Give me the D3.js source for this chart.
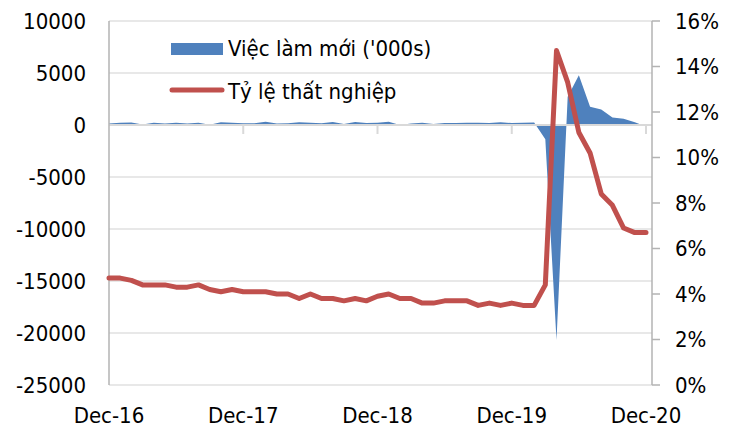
<!DOCTYPE html>
<html>
<head>
<meta charset="utf-8">
<script src="https://cdn.jsdelivr.net/npm/d3@7"></script>
<style>
  body { margin: 0; background: #fff; }
  text { font-family: "DejaVu Sans Condensed", "DejaVu Sans", sans-serif; fill: #000; }
</style>
</head>
<body>
<svg id="chart" width="743" height="431"></svg>
<script>
// monthly, Dec-16 .. Dec-20
const months = d3.range(49);
const yearTicks = [0, 12, 24, 36, 48];
const yearLabels = ["Dec-16", "Dec-17", "Dec-18", "Dec-19", "Dec-20"];

// job gains, thousands
const jobs = [
  155,
  216, 232, 50, 207, 145, 210, 138, 208, 18, 271, 216, 175,
  176, 324, 155, 175, 268, 208, 178, 282, 108, 277, 196, 227,
  312, 1, 147, 210, 85, 182, 194, 207, 208, 185, 261, 184,
  214, 251, -1373, -20679, 2725, 4781, 1761, 1493, 711, 610, 264, -140
];

// unemployment rate, %
const unemp = [
  4.7,
  4.7, 4.6, 4.4, 4.4, 4.4, 4.3, 4.3, 4.4, 4.2, 4.1, 4.2, 4.1,
  4.1, 4.1, 4.0, 4.0, 3.8, 4.0, 3.8, 3.8, 3.7, 3.8, 3.7, 3.9,
  4.0, 3.8, 3.8, 3.6, 3.6, 3.7, 3.7, 3.7, 3.5, 3.6, 3.5, 3.6,
  3.5, 3.5, 4.4, 14.7, 13.3, 11.1, 10.2, 8.4, 7.9, 6.9, 6.7, 6.7
];

const leftTicks = [10000, 5000, 0, -5000, -10000, -15000, -20000, -25000];
const rightTicks = [0, 2, 4, 6, 8, 10, 12, 14, 16];

const svg = d3.select("#chart");
const pl = 109, pr = 652, pt = 21, pb = 385;

const x = d3.scaleLinear().domain([0, 48]).range([pl, 646]);
const y = d3.scaleLinear().domain([-25000, 10000]).range([pb, pt]);
const y2 = d3.scaleLinear().domain([0, 16]).range([pb, pt]);

// gridlines
svg.append("g").selectAll("line")
  .data(leftTicks.filter(d => d !== 0))
  .join("line")
  .attr("x1", pl).attr("x2", pr)
  .attr("y1", d => y(d)).attr("y2", d => y(d))
  .attr("stroke", "#e0e0e0").attr("stroke-width", 1.5);

// area
svg.append("path")
  .datum(months)
  .attr("fill", "#4f81bd")
  .attr("d", d3.area()
    .x(i => x(i))
    .y0(y(0))
    .y1(i => y(jobs[i])));

// category axis at zero
svg.append("line")
  .attr("x1", pl).attr("x2", pr)
  .attr("y1", y(0)).attr("y2", y(0))
  .attr("stroke", "#d9d9d9").attr("stroke-width", 2);
svg.append("g").selectAll("line")
  .data(yearTicks.slice(1))
  .join("line")
  .attr("x1", d => x(d)).attr("x2", d => x(d))
  .attr("y1", y(0)).attr("y2", y(0) + 9)
  .attr("stroke", "#d9d9d9").attr("stroke-width", 2);

// left axis
svg.append("line")
  .attr("x1", pl).attr("x2", pl)
  .attr("y1", pt).attr("y2", pb)
  .attr("stroke", "#b3b3b3").attr("stroke-width", 1.5);
svg.append("g").selectAll("text")
  .data(leftTicks)
  .join("text")
  .attr("x", 86).attr("y", d => y(d)).attr("dy", "0.36em")
  .attr("text-anchor", "end").attr("font-size", 22)
  .text(d => d);

// right axis
svg.append("line")
  .attr("x1", pr).attr("x2", pr)
  .attr("y1", pt).attr("y2", pb)
  .attr("stroke", "#b3b3b3").attr("stroke-width", 1.5);
svg.append("g").selectAll("line")
  .data(rightTicks)
  .join("line")
  .attr("x1", pr).attr("x2", pr + 8)
  .attr("y1", d => y2(d)).attr("y2", d => y2(d))
  .attr("stroke", "#b3b3b3").attr("stroke-width", 1.5);
svg.append("g").selectAll("text")
  .data(rightTicks)
  .join("text")
  .attr("x", 675).attr("y", d => y2(d)).attr("dy", "0.36em")
  .attr("font-size", 22)
  .text(d => d + "%");

// x labels
svg.append("g").selectAll("text")
  .data(yearTicks)
  .join("text")
  .attr("x", d => x(d)).attr("y", 423)
  .attr("text-anchor", "middle").attr("font-size", 22)
  .text((d, i) => yearLabels[i]);

// unemployment line
svg.append("path")
  .datum(months)
  .attr("fill", "none")
  .attr("stroke", "#c0504d").attr("stroke-width", 5)
  .attr("stroke-linejoin", "round").attr("stroke-linecap", "round")
  .attr("d", d3.line().x(i => x(i)).y(i => y2(unemp[i])));

// legend
const lg = svg.append("g");
lg.append("rect").attr("x", 171).attr("y", 43).attr("width", 52).attr("height", 12).attr("fill", "#4f81bd");
lg.append("text").attr("x", 228).attr("y", 48).attr("dy", "0.36em").attr("font-size", 22).text("Việc làm mới ('000s)");
lg.append("line").attr("x1", 172).attr("x2", 222).attr("y1", 90).attr("y2", 90)
  .attr("stroke", "#c0504d").attr("stroke-width", 5).attr("stroke-linecap", "round");
lg.append("text").attr("x", 228).attr("y", 91).attr("dy", "0.36em").attr("font-size", 22).text("Tỷ lệ thất nghiệp");
</script>
</body>
</html>
